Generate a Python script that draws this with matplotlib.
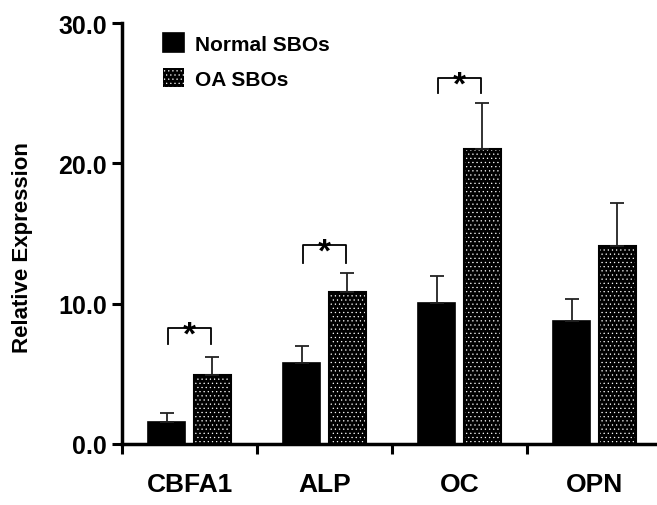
import numpy as np
import matplotlib
matplotlib.use("Agg")
import matplotlib.pyplot as plt

# data
genes = ["CBFA1", "ALP", "OC", "OPN"]
normal_mean = [1.6, 5.8, 10.05, 8.8]
normal_err = [0.6, 1.2, 1.9, 1.5]
oa_mean = [4.9, 10.8, 21.0, 14.1]
oa_err = [1.3, 1.4, 3.3, 3.1]
# significance brackets: (gene index, bracket top, leg bottom)
sig_top = [8.3, 14.2, 26.1]
sig_leg = [7.1, 12.9, 25.0]
sig_idx = [0, 1, 2]
yticks = [0, 10, 20, 30]
ytick_labels = ["0.0", "10.0", "20.0", "30.0"]

plt.rcParams['font.family'] = ['Liberation Sans Narrow', 'Liberation Sans', 'DejaVu Sans']
plt.rcParams['hatch.linewidth'] = 0.4

def main():
    fig = plt.figure(figsize=(6.57, 5.06), dpi=100)
    ax = fig.add_axes([122/657, 61/506, 540/657, 421/506])

    x = np.arange(len(genes))
    off = 0.17
    w = 0.28

    b1 = ax.bar(x - off, normal_mean, w, color="black", edgecolor="black",
                linewidth=1.2, label="Normal SBOs", zorder=2)
    b2 = ax.bar(x + off, oa_mean, w, color="black", edgecolor="white",
                hatch="....", linewidth=0, label="OA SBOs", zorder=2)
    ax.bar(x + off, oa_mean, w, fill=False, edgecolor="black", linewidth=1.5, zorder=3)

    zeros = np.zeros(len(genes))
    ax.errorbar(x - off, normal_mean, yerr=[zeros, normal_err], fmt="none",
                ecolor="#222222", elinewidth=1.3, capsize=5, capthick=1.3, zorder=4)
    ax.errorbar(x + off, oa_mean, yerr=[zeros, oa_err], fmt="none",
                ecolor="#222222", elinewidth=1.3, capsize=5, capthick=1.3, zorder=4)

    for i, top, leg in zip(sig_idx, sig_top, sig_leg):
        ax.plot([i - 0.16, i - 0.16, i + 0.16, i + 0.16], [leg, top, top, leg],
                color="black", lw=1.3, clip_on=False, zorder=5)
        ax.text(i, top - 0.55, "*", ha="center", va="center", fontsize=24,
                fontweight="bold", zorder=6)

    ax.set_xlim(-0.5, 3.5)
    ax.set_ylim(0, 30)
    ax.set_yticks(yticks)
    ax.set_yticklabels(ytick_labels, fontsize=18, fontweight="bold")
    ax.set_xticks(np.arange(-0.5, 3.6, 1.0))
    ax.set_xticklabels([])
    ax.set_xticks(x, minor=True)
    ax.set_xticklabels(genes, minor=True, fontsize=19, fontweight="bold")
    ax.tick_params(axis="x", which="minor", length=0, pad=20)
    ax.tick_params(axis="x", which="major", length=7, width=2.2, direction="out")
    ax.tick_params(axis="y", length=7, width=2.2, direction="out", pad=4)

    for s in ["top", "right"]:
        ax.spines[s].set_visible(False)
    for s in ["left", "bottom"]:
        ax.spines[s].set_linewidth(2.5)
    ax.spines["bottom"].set_zorder(5)

    ax.set_ylabel("Relative Expression", fontsize=16, fontweight="bold")
    ax.yaxis.set_label_coords(-0.165, 0.47)

    ax.legend(handles=[b1, b2], loc="upper left", bbox_to_anchor=(155/657, 1 - 26/506),
              bbox_transform=fig.transFigure, frameon=False,
              prop={"size": 15, "weight": "bold"}, handlelength=1.0, handleheight=1.0,
              handletextpad=0.5, labelspacing=0.7, borderaxespad=0)

    fig.savefig("out.png", dpi=100)

if __name__ == "__main__":
    main()
